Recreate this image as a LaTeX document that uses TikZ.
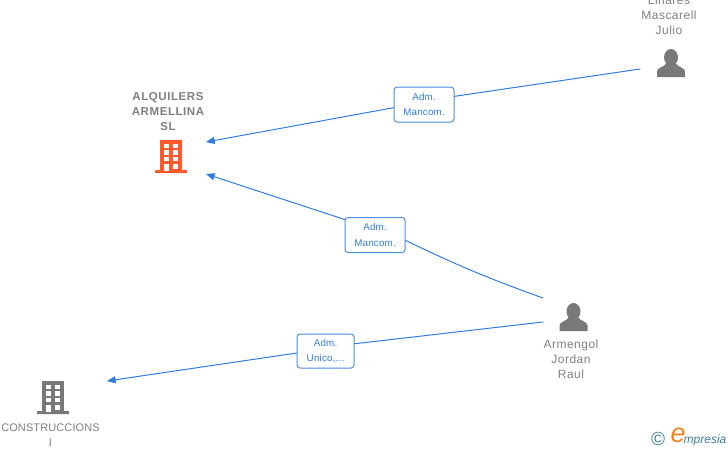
\documentclass[tikz,border=0pt]{standalone}
\usepackage{fontspec}
\usepackage{tikz}
\usetikzlibrary{arrows}
\setmainfont{Liberation Sans}
\definecolor{linkblue}{HTML}{2F7DE1}
\definecolor{boxblue}{HTML}{4A8FE0}
\definecolor{textgray}{HTML}{7F7F7F}
\definecolor{icongray}{HTML}{797979}
\definecolor{iconorange}{HTML}{FF5A2B}
\definecolor{logoorange}{HTML}{EC8420}
\definecolor{logoteal}{HTML}{3F7F93}
\tikzset{
	link/.style={->,line width=1pt,color=linkblue},
	role/.style={draw=boxblue,fill=white,line width=1pt,rounded corners=3pt,inner sep=0pt,align=center,text=linkblue,font=\fontsize{9.8}{15.5}\selectfont\addfontfeature{LetterSpace=2}},
	tag/.style={align=center,text=textgray,inner sep=0pt,font=\fontsize{12}{15}\selectfont\addfontfeature{LetterSpace=4}},
	tagcaps/.style={align=center,text=textgray,inner sep=0pt,font=\fontsize{11}{15}\selectfont\addfontfeature{LetterSpace=1}},
	tagbold/.style={tag,font=\fontsize{11.5}{15}\selectfont\addfontfeature{LetterSpace=5}\bfseries}
}
%building, #1 = top centre, #2 = colour
\newcommand{\buildingicon}[2]{
	\begin{scope}[shift={#1}]
		\fill [#2] (-11,0) rectangle (11,31);
		\fill [#2,rounded corners=0.5pt] (-16,30) rectangle (16,33);
		\foreach \r in {3.5,10.3,17}{
			\fill [white] (-7,\r) rectangle (-2.3,\r+4.2);
			\fill [white] (2.3,\r) rectangle (7,\r+4.2);
		}
		\fill [white] (-7,24) rectangle (-2.3,30.5);
		\fill [white] (2.3,24) rectangle (7,28.5);
	\end{scope}
}
%person, #1 = top centre
\newcommand{\personicon}[1]{
	\begin{scope}[shift={#1}]
		\fill [icongray] (0,8.5) ellipse (7 and 8.5);
		\fill [icongray] (-14,28) -- (-14,22.5) .. controls (-14,18.5) and (-7,18.5) .. (-4.5,14) -- (4.5,14) .. controls (7,18.5) and (14,18.5) .. (14,22.5) -- (14,28) -- cycle;
	\end{scope}
}
\begin{document}
\begin{tikzpicture}[line cap=round,line join=round,>=triangle 45,x=1pt,y=-1pt]
	\clip (0,0) rectangle (728,450);
	%icons
	\buildingicon{(171,140)}{iconorange}
	\buildingicon{(53,381)}{icongray}
	\personicon{(671,49)}
	\personicon{(573.5,303)}
	%tags
	\node [tagbold] (alquilers) at (168,111.7) {ALQUILERS\\ARMELLINA\\SL};
	\node [tag] (linares) at (669,15) {Linares\\Mascarell\\Julio};
	\node [tag] (armengol) at (571,359) {Armengol\\Jordan\\Raul};
	\node [tagcaps] (construcciones) at (50.5,435) {CONSTRUCCIONS\\I};
	%ends of the links
	\coordinate (julioOut) at (640,69);
	\coordinate (alquilersInA) at (206,142);
	\coordinate (alquilersInB) at (206,174);
	\coordinate (raulOutA) at (543,298);
	\coordinate (raulOutB) at (543,322);
	\coordinate (construccionesIn) at (107,381);
	%roles
	\node [role,minimum width=60,minimum height=35] (roleA) at (424,104.5) {Adm.\\Mancom.};
	\node [role,minimum width=60,minimum height=35] (roleB) at (375,235) {Adm.\\Mancom.};
	\node [role,minimum width=57,minimum height=34] (roleC) at (325.5,351) {Adm.\\Unico,...};
	%links
	\draw [link,-] (julioOut) -- (roleA.15);
	\draw [link] (roleA.186) -- (alquilersInA);
	\draw [link,-] (raulOutA) to [bend left=3] (roleB.-10);
	\draw [link] (roleB.153) -- (alquilersInB);
	\draw [link,-] (raulOutB) -- (roleC.14);
	\draw [link] (roleC.184) -- (construccionesIn);
	%logo
	\node [inner sep=0pt,text=logoteal,font=\fontsize{19}{19}\selectfont] (copyright) at (658,439) {©};
	\node [inner sep=0pt,text=logoorange,font=\fontsize{27}{27}\selectfont\itshape] (logoE) at (678,435) {e};
	\node [inner sep=0pt,text=logoteal,font=\fontsize{12}{12}\selectfont\itshape] (logoText) at (705,440) {mpresia};
\end{tikzpicture}
\end{document}
